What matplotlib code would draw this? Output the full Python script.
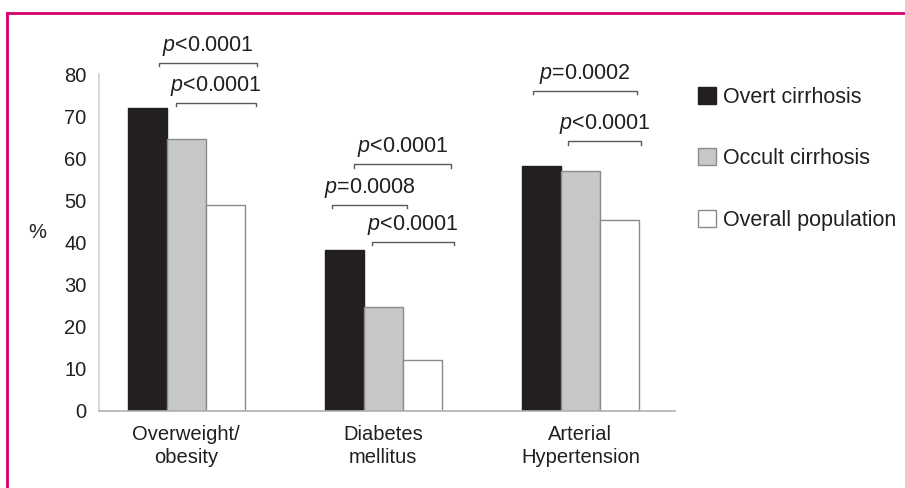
import matplotlib.pyplot as plt
from matplotlib.lines import Line2D
from matplotlib.patches import Patch
import numpy as np

plt.rcParams['font.family'] = ['Liberation Sans', 'DejaVu Sans']
plt.rcParams['mathtext.fontset'] = 'custom'
plt.rcParams['mathtext.it'] = 'Liberation Sans:italic'
plt.rcParams['mathtext.rm'] = 'Liberation Sans'

categories = ['Overweight/\nobesity', 'Diabetes\nmellitus', 'Arterial\nHypertension']
series = ['Overt cirrhosis', 'Occult cirrhosis', 'Overall population']
overt = [72.0, 38.3, 58.2]
occult = [64.5, 24.6, 57.0]
overall = [49.0, 12.0, 45.3]
yticks = [0, 10, 20, 30, 40, 50, 60, 70, 80]

# significance brackets: (group, left end, right end, height, label)
brackets = [
    (0, -0.14, 0.36, 82.6, r'$p$<0.0001'),
    (0, -0.05, 0.355, 73.1, r'$p$<0.0001'),
    (1, -0.15, 0.345, 58.6, r'$p$<0.0001'),
    (1, -0.26, 0.12, 49.0, r'$p$=0.0008'),
    (1, -0.055, 0.36, 40.2, r'$p$<0.0001'),
    (2, -0.24, 0.285, 76.0, r'$p$=0.0002'),
    (2, -0.065, 0.31, 64.0, r'$p$<0.0001'),
]

fills = ['#231f20', '#c6c7c9', '#ffffff']
edges = ['#231f20', '#8a8a8a', '#8a8a8a']
fs = 14.5
pfs = 15.5

fig = plt.figure(figsize=(9.05, 4.88), dpi=100)
ax = fig.add_axes([99 / 905, 1 - 411 / 488, (675 - 99) / 905, (411 - 74) / 488])

x = np.arange(len(categories))
w = 0.198
for i, vals in enumerate([overt, occult, overall]):
    ax.bar(x + (i - 1) * w, vals, w, color=fills[i], edgecolor=edges[i],
           linewidth=1.0, label=series[i], zorder=2)

for g, a, b, h, lab in brackets:
    d = 0.8
    ax.plot([g + a, g + a, g + b, g + b], [h - d, h, h, h - d],
            color='#5a5a5a', lw=1.0, clip_on=False)
    ax.text(g + (a + b) / 2, h + 1.2, lab, ha='center', va='bottom',
            fontsize=pfs, color='#231f20')

ax.set_xlim(-0.442, 2.48)
ax.set_ylim(0, 80)
ax.set_yticks(yticks)
ax.set_xticks(x)
ax.set_xticklabels(categories, fontsize=fs, color='#231f20', linespacing=1.25)
ax.tick_params(axis='y', length=0, pad=9, labelsize=fs, labelcolor='#231f20')
ax.tick_params(axis='x', length=0, pad=10)
for s in ['top', 'right']:
    ax.spines[s].set_visible(False)
ax.spines['left'].set_color('#d0d0d0')
ax.spines['bottom'].set_color('#b0b0b0')
ax.spines['left'].set_linewidth(1.2)
ax.spines['bottom'].set_linewidth(1.2)

ax.set_ylabel('%', rotation=0, fontsize=fs, color='#231f20')
ax.yaxis.set_label_coords(-0.108, 0.5)

handles = [Patch(facecolor=fills[i], edgecolor=edges[i], linewidth=1.0)
           for i in range(3)]
fig.legend(handles, series, loc='upper left', bbox_to_anchor=(698 / 905, 1 - 87 / 488),
           frameon=False, fontsize=15.5, handlelength=0.85, handleheight=0.85,
           handletextpad=0.3, labelspacing=1.87, borderpad=0, borderaxespad=0,
           labelcolor='#231f20')

# pink frame lines
pink = '#d6006e'
fig.add_artist(Line2D([7 / 905, 1], [1 - 13 / 488, 1 - 13 / 488], color=pink, lw=2))
fig.add_artist(Line2D([7 / 905, 7 / 905], [0, 1 - 13 / 488], color=pink, lw=2))

fig.savefig('out.png', dpi=100)
